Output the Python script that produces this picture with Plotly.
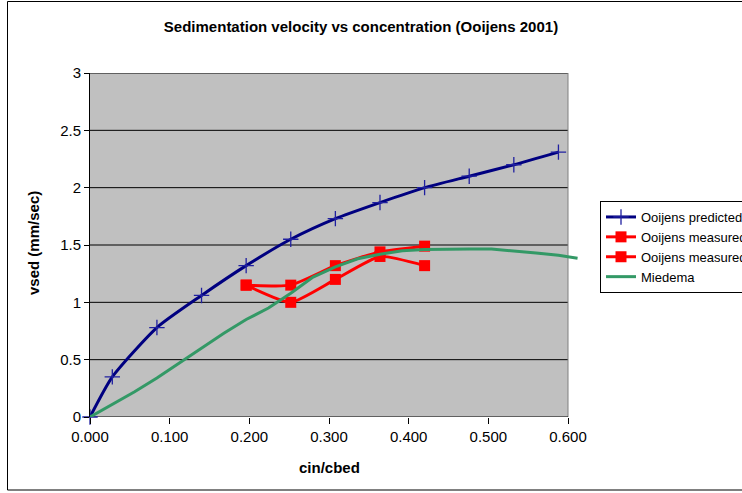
import plotly.graph_objects as go

# ---- data ----
conc_pred = [0.000, 0.028, 0.084, 0.140, 0.196, 0.252, 0.308, 0.364, 0.420, 0.476, 0.532, 0.588]
vsed_pred = [0.00, 0.35, 0.78, 1.06, 1.32, 1.55, 1.73, 1.87, 2.00, 2.10, 2.20, 2.31]

conc_meas = [0.196, 0.252, 0.308, 0.364, 0.420]
vsed_meas1 = [1.15, 1.15, 1.32, 1.44, 1.49]
vsed_meas2 = [1.15, 1.00, 1.20, 1.40, 1.32]

conc_mied = [0.000, 0.028, 0.056, 0.084, 0.112, 0.140, 0.168, 0.196, 0.224, 0.252, 0.280,
             0.308, 0.336, 0.364, 0.392, 0.420, 0.448, 0.476, 0.504, 0.532, 0.560, 0.588, 0.612]
vsed_mied = [0.00, 0.11, 0.22, 0.34, 0.47, 0.60, 0.73, 0.85, 0.95, 1.08, 1.22,
             1.31, 1.38, 1.42, 1.45, 1.46, 1.465, 1.465, 1.465, 1.45, 1.43, 1.41, 1.385]

x_ticks = [0.0, 0.1, 0.2, 0.3, 0.4, 0.5, 0.6]
x_ticklabels = ["0.000", "0.100", "0.200", "0.300", "0.400", "0.500", "0.600"]
y_ticks = [0, 0.5, 1, 1.5, 2, 2.5, 3]
y_ticklabels = ["0", "0.5", "1", "1.5", "2", "2.5", "3"]

FONT = "Arial, Liberation Sans, sans-serif"
W, H = 742, 493
L, T, B = 90, 73, 76
PW = 488            # plot width in px (0 -> 90px, 0.6 -> 568px)
R = W - L - PW
XMAX = 0.6 * PW / 478.0
PH = H - T - B

def px_x(p):
    return (p - L) / PW

def px_y(p):
    return (H - B - p) / PH

fig = go.Figure()

fig.add_trace(go.Scatter(
    x=conc_pred, y=vsed_pred, name="Ooijens predicted", mode="lines+markers",
    line=dict(color="#000080", width=3, shape="spline", smoothing=0.6),
    marker=dict(symbol="cross-thin", size=11, color="#000080",
                line=dict(width=1.3, color="#2020a0")),
    cliponaxis=False,
))
fig.add_trace(go.Scatter(
    x=conc_meas, y=vsed_meas1, name="Ooijens measured", mode="lines+markers",
    line=dict(color="#FF0000", width=3, shape="spline", smoothing=0.5),
    marker=dict(symbol="square", size=11, color="#FF0000"),
))
fig.add_trace(go.Scatter(
    x=conc_meas, y=vsed_meas2, name="Ooijens measured", mode="lines+markers",
    line=dict(color="#FF0000", width=3, shape="spline", smoothing=0.5),
    marker=dict(symbol="square", size=11, color="#FF0000"),
))
fig.add_trace(go.Scatter(
    x=conc_mied, y=vsed_mied, name="Miedema", mode="lines",
    line=dict(color="#339966", width=3),
))

shapes = []
# grey plot area
shapes.append(dict(type="rect", xref="x", yref="y", x0=0, x1=0.6, y0=0, y1=3,
                   fillcolor="#C0C0C0", line=dict(width=0), layer="below"))
# horizontal gridlines
for yv in y_ticks[1:]:
    shapes.append(dict(type="line", xref="x", yref="y", x0=0, x1=0.6, y0=yv, y1=yv,
                       line=dict(color="#000000", width=1), layer="below"))
# right border of plot area
shapes.append(dict(type="line", xref="x", yref="y", x0=0.6, x1=0.6, y0=0, y1=3,
                   line=dict(color="#808080", width=1), layer="below"))
# x axis line
shapes.append(dict(type="line", xref="x", yref="y", x0=0, x1=0.6, y0=0, y1=0,
                   line=dict(color="#000000", width=1), layer="below"))
# chart area border
shapes.append(dict(type="rect", xref="paper", yref="paper",
                   x0=px_x(7.5), x1=px_x(760), y0=px_y(490), y1=px_y(1.5),
                   line=dict(color="#000000", width=1), fillcolor="rgba(0,0,0,0)",
                   layer="below"))

annotations = [
    dict(text="<b>cin/cbed</b>", xref="paper", yref="paper", x=px_x(329), y=px_y(467),
         xanchor="center", yanchor="middle", showarrow=False,
         font=dict(family=FONT, size=15, color="#000")),
    dict(text="<b>vsed (mm/sec)</b>", xref="paper", yref="paper", x=px_x(33), y=px_y(243),
         xanchor="center", yanchor="middle", showarrow=False, textangle=-90,
         font=dict(family=FONT, size=15, color="#000")),
]

fig.update_layout(
    width=W, height=H, autosize=False,
    margin=dict(l=L, r=R, t=T, b=B, pad=0, autoexpand=False),
    paper_bgcolor="white", plot_bgcolor="rgba(0,0,0,0)",
    font=dict(family=FONT, size=14, color="#000"),
    title=dict(text="<b>Sedimentation velocity vs concentration (Ooijens 2001)</b>",
               x=361 / W, y=1 - 27 / H, xanchor="center", yanchor="middle",
               font=dict(family=FONT, size=15, color="#000")),
    xaxis=dict(range=[0, XMAX], tickvals=x_ticks, ticktext=x_ticklabels,
               showgrid=False, zeroline=False, showline=False,
               ticks="outside", ticklen=6, tickcolor="#000", tickwidth=1,
               tickfont=dict(family=FONT, size=15, color="#000")),
    yaxis=dict(range=[0, 3], tickvals=y_ticks, ticktext=y_ticklabels,
               showgrid=False, zeroline=False, showline=True, linecolor="#000", linewidth=1,
               ticks="outside", ticklen=5, tickcolor="#000", tickwidth=1,
               tickfont=dict(family=FONT, size=15, color="#000")),
    legend=dict(x=px_x(600), y=px_y(201), xanchor="left", yanchor="top",
                bgcolor="white", bordercolor="#000", borderwidth=1,
                font=dict(family=FONT, size=13, color="#000"),
                tracegroupgap=0, itemwidth=30),
    shapes=shapes,
    annotations=annotations,
    showlegend=True,
)

fig.write_html("out.html", config={"displayModeBar": False},
               post_script="document.body.style.margin='0';")
